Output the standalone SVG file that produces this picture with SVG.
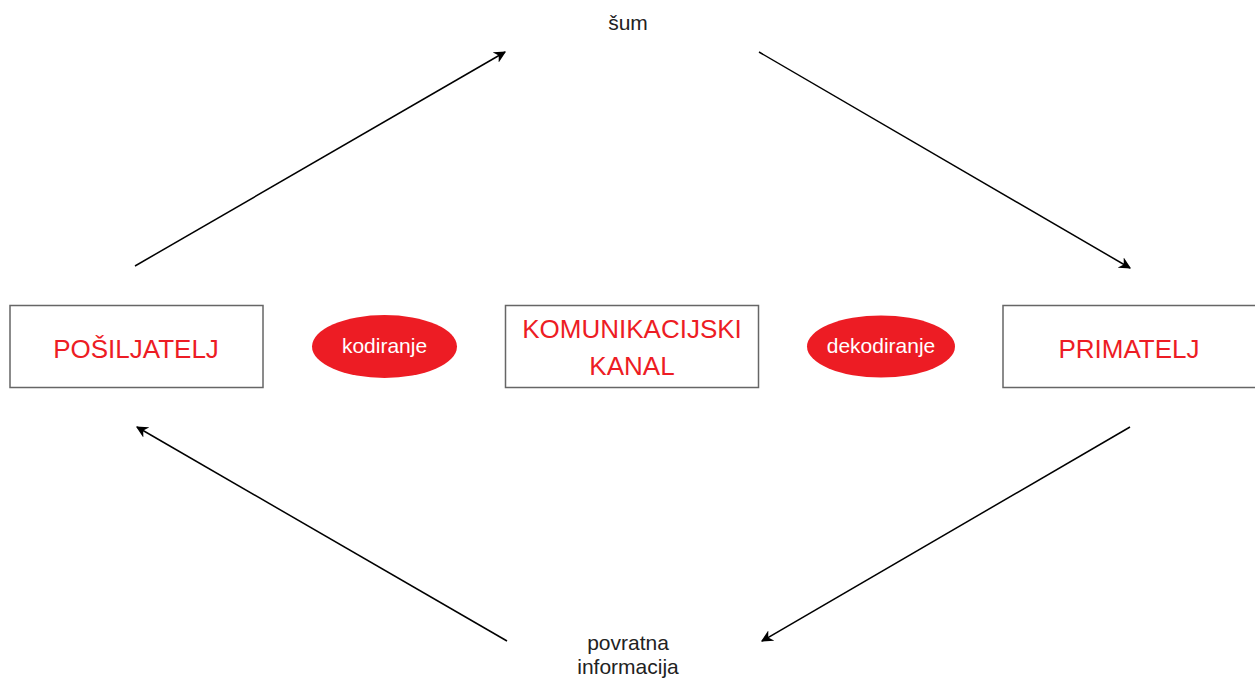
<svg xmlns="http://www.w3.org/2000/svg" width="1255" height="680" viewBox="0 0 1255 680">
<defs>
<marker id="ah" viewBox="0 0 10 10" refX="9" refY="5" markerWidth="12" markerHeight="12" markerUnits="userSpaceOnUse" orient="auto">
<path d="M0,0 L10,5 L0,10 L3,5 Z" fill="#000"/>
</marker>
<style>
.box{fill:#fff;stroke:#666;stroke-width:1.5}
.lbl{font-family:"Liberation Sans",Arial,sans-serif;font-size:26px;fill:#ed1c24;text-anchor:middle}
.oval{fill:#ed1c24}
.ol{font-family:"Liberation Sans",Arial,sans-serif;font-size:21px;fill:#fff;text-anchor:middle}
.note{font-family:"Liberation Sans",Arial,sans-serif;font-size:21px;fill:#222;text-anchor:middle}
.con{stroke:#000;stroke-width:1.5;fill:none;marker-end:url(#ah)}
</style>
</defs>
<rect width="1255" height="680" fill="#fff"/>
<g id="posiljatelj">
<rect class="box" x="10" y="305.5" width="253" height="82"/>
<text class="lbl" x="136" y="358">POŠILJATELJ</text>
</g>
<g id="kodiranje">
<ellipse class="oval" cx="384.5" cy="346.5" rx="72.5" ry="31.5"/>
<text class="ol" x="384.5" y="353">kodiranje</text>
</g>
<g id="kanal">
<rect class="box" x="505.5" y="305.5" width="253" height="82"/>
<text class="lbl" x="632" y="338">KOMUNIKACIJSKI</text>
<text class="lbl" x="632" y="375">KANAL</text>
</g>
<g id="dekodiranje">
<ellipse class="oval" cx="881" cy="346.5" rx="74" ry="31"/>
<text class="ol" x="881" y="353">dekodiranje</text>
</g>
<g id="primatelj">
<rect class="box" x="1003" y="305.5" width="260" height="82"/>
<text class="lbl" x="1129" y="358">PRIMATELJ</text>
</g>
<g id="sum">
<text class="note" x="628" y="30">šum</text>
</g>
<g id="povratna">
<text class="note" x="628" y="650">povratna</text>
<text class="note" x="628" y="674">informacija</text>
</g>
<g id="connectors">
<line class="con" x1="135" y1="266" x2="505" y2="52"/>
<line class="con" x1="759" y1="52" x2="1130" y2="268"/>
<line class="con" x1="1130" y1="427" x2="762" y2="641"/>
<line class="con" x1="507" y1="641" x2="137" y2="427"/>
</g>
</svg>
